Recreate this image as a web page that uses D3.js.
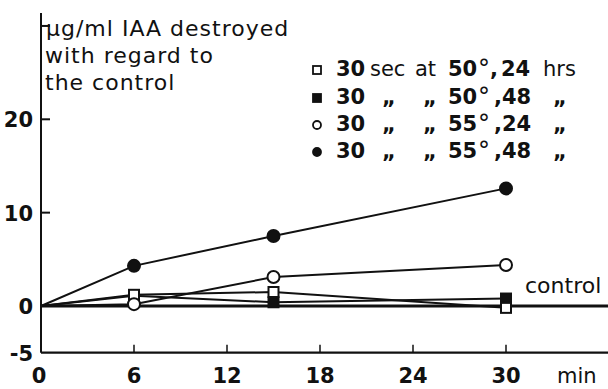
<!DOCTYPE html>
<html lang="en">
<head>
    <meta charset="UTF-8">
    <title>IAA destroyed</title>
    <script src="https://d3js.org/d3.v7.min.js"></script>
    <style>
        body { margin: 0; background: #fff; }
        text { font-family: "DejaVu Sans", sans-serif; fill: #111; }
    </style>
</head>
<body>
    <svg width="608" height="389" id="chart"></svg>

    <script>
        const svg = d3.select("#chart");

        // Data
        const minutes = [0, 6, 15, 30];
        const sq50_24 = [0, 1.2, 1.5, -0.2];   // open square
        const sq50_48 = [0, 1.1, 0.4, 0.8];    // filled square
        const ci55_24 = [0, 0.2, 3.1, 4.4];    // open circle
        const ci55_48 = [0, 4.3, 7.5, 12.6];   // filled circle

        const xTicks = [0, 6, 12, 18, 24, 30];
        const yTicks = [-5, 0, 10, 20, 30];
        const yTickLabels = ["-5", "0", "10", "20", ""];

        // legend tokens: time, unit, "at", temperature, degree, comma, hours, unit
        const legendRows = [
            ["30", "sec", "at", "50", "°", ",", "24", "hrs"],
            ["30", "„", "„", "50", "°", ",", "48", "„"],
            ["30", "„", "„", "55", "°", ",", "24", "„"],
            ["30", "„", "„", "55", "°", ",", "48", "„"]
        ];

        const series = [
            { values: sq50_24, shape: "square", filled: false },
            { values: sq50_48, shape: "square", filled: true },
            { values: ci55_24, shape: "circle", filled: false },
            { values: ci55_48, shape: "circle", filled: true }
        ];

        // Scales
        const x = d3.scaleLinear().domain([0, 30]).range([41, 506]);
        const y = d3.scaleLinear().domain([0, 20]).range([306, 119.3]);

        const ink = "#111";

        // Axes lines
        svg.append("line")
            .attr("x1", x(0)).attr("x2", x(0))
            .attr("y1", 13).attr("y2", y(-5))
            .style("stroke", ink).style("stroke-width", 2);
        svg.append("line")
            .attr("x1", x(0)).attr("x2", 608)
            .attr("y1", y(-5)).attr("y2", y(-5))
            .style("stroke", ink).style("stroke-width", 2.2);

        // y ticks (pointing inwards)
        svg.selectAll(".ytick").data(yTicks.filter(d => d > 0)).enter()
            .append("line")
            .attr("x1", x(0)).attr("x2", x(0) + 9)
            .attr("y1", d => y(d)).attr("y2", d => y(d))
            .style("stroke", ink).style("stroke-width", 2);

        svg.selectAll(".ylab").data(yTicks).enter()
            .append("text")
            .attr("x", 33)
            .attr("y", d => y(d) + 8)
            .attr("text-anchor", "end")
            .style("font-size", "21px")
            .style("font-weight", "bold")
            .text((d, i) => yTickLabels[i]);

        // x ticks (pointing up)
        svg.selectAll(".xtick").data(xTicks.filter(d => d > 0)).enter()
            .append("line")
            .attr("x1", d => x(d)).attr("x2", d => x(d))
            .attr("y1", y(-5)).attr("y2", y(-5) - 8)
            .style("stroke", ink).style("stroke-width", 1.5);

        svg.selectAll(".xlab").data(xTicks).enter()
            .append("text")
            .attr("x", d => x(d) + (d === 0 ? -2 : 0))
            .attr("y", 383)
            .attr("text-anchor", "middle")
            .style("font-size", "21px")
            .style("font-weight", "bold")
            .text(d => d);

        svg.append("text")
            .attr("x", 557).attr("y", 383)
            .style("font-size", "21px")
            .text("min");

        // Control line
        svg.append("line")
            .attr("x1", x(0)).attr("x2", 608)
            .attr("y1", y(0)).attr("y2", y(0))
            .style("stroke", ink).style("stroke-width", 3);
        svg.append("text")
            .attr("x", 525).attr("y", 293)
            .style("font-size", "22px")
            .text("control");

        // Axis title
        const title = svg.append("text").style("font-size", "22px").style("letter-spacing", "1px");
        title.append("tspan").attr("x", 46).attr("y", 36).text("µg/ml IAA destroyed");
        title.append("tspan").attr("x", 45).attr("y", 63).text("with regard to");
        title.append("tspan").attr("x", 45).attr("y", 90).text("the control");

        // Series lines and markers
        const line = d3.line().x((d, i) => x(minutes[i])).y(d => y(d));

        function drawMarker(g, shape, filled, cx, cy, size, sw) {
            if (shape === "circle") {
                g.append("circle")
                    .attr("cx", cx).attr("cy", cy).attr("r", size / 2)
                    .style("fill", filled ? ink : "#fff")
                    .style("stroke", ink).style("stroke-width", sw);
            } else {
                g.append("rect")
                    .attr("x", cx - size / 2).attr("y", cy - size / 2)
                    .attr("width", size).attr("height", size)
                    .style("fill", filled ? ink : "#fff")
                    .style("stroke", ink).style("stroke-width", sw);
            }
        }

        series.forEach(s => {
            svg.append("path")
                .attr("d", line(s.values))
                .style("fill", "none")
                .style("stroke", ink)
                .style("stroke-width", 2);
        });

        // draw filled squares first so open squares sit on top
        [1, 0, 2, 3].forEach(k => {
            const s = series[k];
            const g = svg.append("g");
            s.values.forEach((v, i) => {
                if (i === 0) return;
                drawMarker(g, s.shape, s.filled, x(minutes[i]), y(v), s.shape === "circle" ? 12 : 10, 2);
            });
        });

        // Legend: one text per row, tokens placed as tspans
        const firstRowX = [336, 370, 415, 448, 478, 490, 501, 543];
        const dittoRowX = [336, 382, 423, 448, 478, 494, 502, 553];
        const rowY = [76, 104, 131, 158];

        legendRows.forEach((row, r) => {
            drawMarker(svg, series[r].shape, series[r].filled, 317, rowY[r] - 6, 8, 1.8);
            const xs = r === 0 ? firstRowX : dittoRowX;
            const t = svg.append("text")
                .attr("y", rowY[r])
                .style("font-size", "21px");
            row.forEach((tok, c) => {
                const isWord = ["sec", "at", "hrs"].includes(tok);
                const isDeg = tok === "°";
                t.append("tspan")
                    .attr("x", xs[c])
                    .attr("y", rowY[r] + (isDeg ? 1 : 0))
                    .style("font-size", isDeg ? "24px" : "21px")
                    .style("font-weight", isWord || isDeg ? "normal" : "bold")
                    .text(tok);
            });
        });
    </script>
</body>
</html>
